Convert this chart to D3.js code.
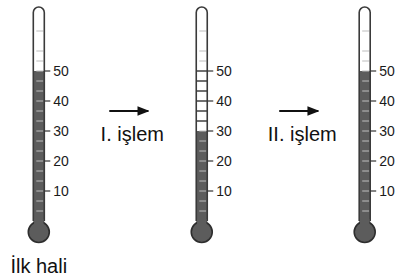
<!DOCTYPE html>
<html lang="tr">
<head>
  <meta charset="UTF-8">
  <script src="https://d3js.org/d3.v7.min.js"></script>
  <style>
    body { margin: 0; background: #fff; }
    svg { display: block; font-family: "Liberation Sans", Arial, sans-serif; }
  </style>
</head>
<body>
  <div id="chart"></div>
  <script>
    // thermometer states (left to right)
    const states = ["İlk hali", "I. işlem sonrası", "II. işlem sonrası"];
    const levels = [50, 30, 50];
    const majorTicks = [10, 20, 30, 40, 50];
    const stepLabels = ["I. işlem", "II. işlem"];
    const bottomLabel = "İlk hali";

    const width = 399, height = 278;
    const tubeW = 11, bulbR = 10.5;
    const minorStep = 10 / 3;
    const scaleMax = 64;

    const svg = d3.select("#chart").append("svg")
      .attr("width", width).attr("height", height);

    const x = d3.scalePoint().domain(states).range([38.8, 364.7]);
    const y = d3.scaleLinear().domain([0, 50]).range([221, 71]);

    const minor = d3.range(minorStep, scaleMax, minorStep)
      .filter(v => Math.abs(v / 10 - Math.round(v / 10)) > 0.01);

    const tubeTop = 7;

    states.forEach((s, i) => {
      const cx = x(s);
      const g = svg.append("g");
      const left = cx - tubeW / 2, right = cx + tubeW / 2;
      const r = tubeW / 2;

      // tube shape with rounded top
      const tubePath = `M${left},${y(0)} L${left},${tubeTop + r} A${r},${r} 0 0 1 ${right},${tubeTop + r} L${right},${y(0)}`;

      g.append("path").attr("d", tubePath + " Z").attr("fill", "#fff");

      // fill column
      g.append("rect")
        .attr("x", left).attr("width", tubeW)
        .attr("y", y(levels[i])).attr("height", y(0) - y(levels[i]) + 4)
        .attr("fill", "#5c5c5c");

      // drop from previous level drawn as black rungs
      const prev = i > 0 ? levels[i - 1] : levels[i];
      const dropped = v => prev > levels[i] && v > levels[i] + 0.1 && v <= prev + 0.1;
      g.selectAll(".rung")
        .data(minor.concat(majorTicks).filter(dropped))
        .join("line")
        .attr("x1", left).attr("x2", right)
        .attr("y1", d => y(d)).attr("y2", d => y(d))
        .attr("stroke", "#222").attr("stroke-width", 1.3);

      // minor + inner major ticks
      g.selectAll(".minor")
        .data(minor.concat(majorTicks).filter(v => !dropped(v)))
        .join("line")
        .attr("x1", left + 3).attr("x2", right - 1)
        .attr("y1", d => y(d)).attr("y2", d => y(d))
        .attr("stroke", "#bdbdbd").attr("stroke-width", 1);

      // tube outline
      g.append("path").attr("d", tubePath)
        .attr("fill", "none").attr("stroke", "#3a3a3a").attr("stroke-width", 1.6);

      // bulb
      g.append("circle")
        .attr("cx", cx).attr("cy", y(0) + bulbR + 0.5).attr("r", bulbR)
        .attr("fill", "#5c5c5c").attr("stroke", "#2e2e2e").attr("stroke-width", 1.6);
      g.append("rect")
        .attr("x", left + 0.8).attr("width", tubeW - 1.6)
        .attr("y", y(0) - 2).attr("height", 6)
        .attr("fill", "#5c5c5c");

      // outer major ticks + labels
      const axis = g.append("g");
      axis.selectAll("line")
        .data(majorTicks).join("line")
        .attr("x1", right).attr("x2", right + 6)
        .attr("y1", d => y(d)).attr("y2", d => y(d))
        .attr("stroke", "#333").attr("stroke-width", 1.2);
      axis.selectAll("text")
        .data(majorTicks).join("text")
        .attr("x", right + 9).attr("y", d => y(d))
        .attr("dy", "0.36em")
        .attr("font-size", 14)
        .attr("fill", "#1a1a1a")
        .text(d => d);
    });

    // arrows and step labels
    svg.append("defs").append("marker")
      .attr("id", "arrowhead")
      .attr("viewBox", "0 0 10 8")
      .attr("refX", 9).attr("refY", 4)
      .attr("markerWidth", 6).attr("markerHeight", 4.8)
      .attr("markerUnits", "strokeWidth")
      .attr("orient", "auto")
      .append("path").attr("d", "M0,0 L10,4 L0,8 Z").attr("fill", "#111");

    stepLabels.forEach((lab, i) => {
      const mid = (x(states[i]) + x(states[i + 1])) / 2;
      const off = i === 0 ? 8 : 15;
      svg.append("line")
        .attr("x1", mid + off - 19).attr("x2", mid + off + 20)
        .attr("y1", 111).attr("y2", 111)
        .attr("stroke", "#111").attr("stroke-width", 2)
        .attr("marker-end", "url(#arrowhead)");
      svg.append("text")
        .attr("x", mid + off + 4).attr("y", 141)
        .attr("text-anchor", "middle")
        .attr("font-size", 20)
        .attr("fill", "#111")
        .text(lab);
    });

    svg.append("text")
      .attr("x", x(states[0])).attr("y", 273)
      .attr("text-anchor", "middle")
      .attr("font-size", 20)
      .attr("fill", "#111")
      .text(bottomLabel);
  </script>
</body>
</html>
